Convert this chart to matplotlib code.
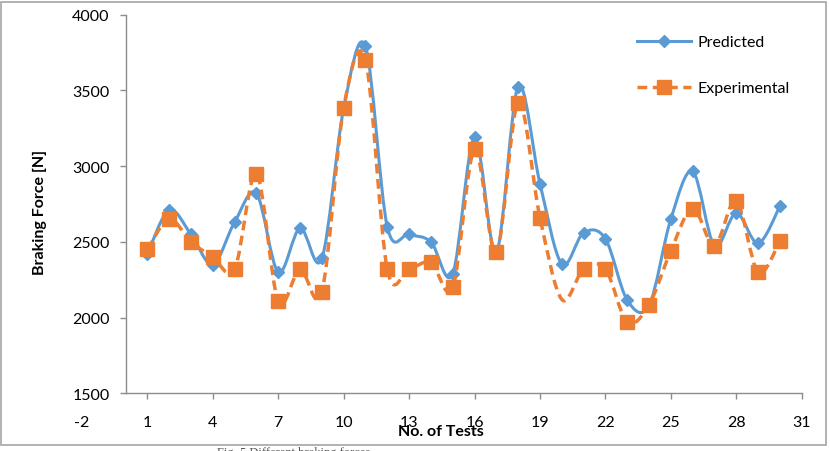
import numpy as np
import matplotlib.pyplot as plt
from matplotlib.path import Path
from matplotlib.patches import PathPatch, Rectangle
from matplotlib.lines import Line2D

plt.rcParams['font.family'] = ['Lato', 'DejaVu Sans']
plt.rcParams['axes.unicode_minus'] = False

tests = list(range(1, 31))
predicted = [2420, 2710, 2550, 2350, 2630, 2820, 2300, 2590, 2390, 3380,
             3790, 2600, 2550, 2500, 2290, 3190, 2430, 3525, 2885, 2355,
             2560, 2520, 2115, 2080, 2650, 2965, 2475, 2690, 2490, 2735]
experimental = [2450, 2650, 2500, 2400, 2320, 2950, 2110, 2320, 2170, 3385,
                3700, 2320, 2320, 2365, 2200, 3110, 2430, 3420, 2660, 2120,
                2320, 2320, 1970, 2085, 2440, 2720, 2475, 2770, 2300, 2505]
xticks = list(range(-2, 32, 3))
yticks = list(range(1500, 4001, 500))

blue = '#5B9BD5'
orange = '#ED7D31'
grey = '#8c8c8c'


def smooth_path(xs, ys):
    # Excel-like smoothed line: cubic bezier through every point
    pts = np.column_stack([xs, ys]).astype(float)
    ext = np.vstack([pts[0], pts, pts[-1]])
    verts = [pts[0]]
    codes = [Path.MOVETO]
    for i in range(len(pts) - 1):
        p0, p1, p2, p3 = ext[i], ext[i + 1], ext[i + 2], ext[i + 3]
        verts += [p1 + (p2 - p0) / 6, p2 - (p3 - p1) / 6, p2]
        codes += [Path.CURVE4] * 3
    return Path(verts, codes)


fig = plt.figure(figsize=(8.3, 4.52), dpi=100)
ax = fig.add_axes([0.0987, 0.1277, 0.8672, 0.8376])

ax.add_patch(PathPatch(smooth_path(tests, predicted), fill=False,
                       edgecolor=blue, lw=2.2, zorder=2))
ax.plot(tests, predicted, linestyle='none', marker='D', ms=6,
        color=blue, zorder=3)

ax.add_patch(PathPatch(smooth_path(tests, experimental), fill=False,
                       edgecolor=orange, lw=2.5, linestyle=(0, (2.8, 1.6)),
                       capstyle='butt', zorder=4))
marks = [i for i in range(len(tests)) if tests[i] != 20]
ax.plot(tests, experimental, linestyle='none', marker='s', ms=10,
        color=orange, markevery=marks, zorder=5)

ax.set_xlim(-2, 31)
ax.set_ylim(1500, 4000)
ax.set_xticks(xticks)
ax.set_yticks(yticks)
ax.xaxis.get_major_ticks()[0].tick1line.set_visible(False)

for s in ['top', 'right']:
    ax.spines[s].set_visible(False)
ax.spines['left'].set_position(('data', 0))
ax.spines['bottom'].set_bounds(0, 31)
for s in ['left', 'bottom']:
    ax.spines[s].set_color(grey)
    ax.spines[s].set_linewidth(1)
ax.tick_params(axis='both', colors=grey, length=4.5, width=1,
               labelcolor='black', labelsize=11.5)
ax.tick_params(axis='x', pad=11)
ax.tick_params(axis='y', pad=7)

fig.text(40 / 830, 1 - 212 / 452, 'Braking Force [N]', rotation=90,
         fontsize=11.5, fontweight='bold', ha='center', va='center')
fig.text(441 / 830, 1 - 432 / 452, 'No. of Tests', fontsize=11.5,
         fontweight='bold', ha='center', va='center')

handles = [Line2D([], [], color=blue, lw=2.2, marker='D', ms=6),
           Line2D([], [], color=orange, lw=2.5, linestyle=(0, (2.8, 1.6)),
                  marker='s', ms=10)]
ax.legend(handles, ['Predicted', 'Experimental'], loc='upper left',
          bbox_to_anchor=(637 / 830, 1 - 36 / 452),
          bbox_transform=fig.transFigure, frameon=False, fontsize=11.5,
          handlelength=3.4, handletextpad=0.4, labelspacing=2.0,
          borderpad=0, borderaxespad=0, numpoints=1)

fig.patches.append(Rectangle((1 / 830, 1 - 446 / 452), 825 / 830, 443 / 452,
                             transform=fig.transFigure, fill=False,
                             edgecolor='#a6a6a6', lw=1.2))
fig.text(217 / 830, 1 - 447 / 452, 'Fig. 5 Different braking forces',
         fontsize=9, family='Liberation Serif', color='#555555', va='top')

fig.savefig('out.png', dpi=100)
